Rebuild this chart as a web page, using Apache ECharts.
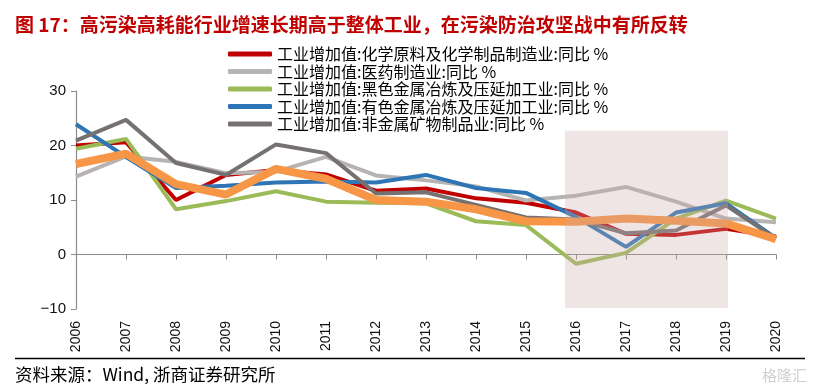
<!DOCTYPE html>
<html>
<head>
<meta charset="utf-8">
<script src="https://cdn.jsdelivr.net/npm/echarts@6/dist/echarts.min.js"></script>
<style>
html,body{margin:0;padding:0;background:#fff;}
#c{width:815px;height:392px;}
</style>
</head>
<body>
<div id="c"></div>
<script>
const years = ['2006','2007','2008','2009','2010','2011','2012','2013','2014','2015','2016','2017','2018','2019','2020'];
const chemical   = [20.0, 20.6, 10.0, 14.6, 15.5, 14.7, 11.7, 12.1, 10.3, 9.5, 7.7, 3.8, 3.6, 4.7, 3.3];
const pharma     = [14.3, 18.0, 17.0, 14.9, 15.2, 17.9, 14.5, 13.6, 12.5, 9.9, 10.8, 12.4, 9.7, 6.6, 5.9];
const ferrous    = [19.4, 21.2, 8.3, 9.8, 11.6, 9.7, 9.5, 9.4, 6.1, 5.4, -1.7, 0.3, 6.6, 9.9, 6.6];
const nonferrous = [23.9, 17.9, 12.2, 12.6, 13.2, 13.4, 13.2, 14.6, 12.2, 11.3, 6.9, 1.4, 7.7, 9.4, 3.0];
const nonmetal   = [20.9, 24.7, 16.8, 14.6, 20.2, 18.6, 11.2, 11.4, 9.1, 6.8, 6.4, 3.9, 4.4, 9.0, 2.9];
const overall    = [16.6, 18.5, 12.9, 11.0, 15.7, 13.9, 10.0, 9.7, 8.3, 6.1, 6.0, 6.6, 6.2, 5.7, 2.8];
const seriesNames = [
  '工业增加值:化学原料及化学制品制造业:同比 %',
  '工业增加值:医药制造业:同比 %',
  '工业增加值:黑色金属冶炼及压延加工业:同比 %',
  '工业增加值:有色金属冶炼及压延加工业:同比 %',
  '工业增加值:非金属矿物制品业:同比 %'
];
const overallName = '工业增加值:同比 %';
// shaded period [xStart, yTop, xEnd, yBottom] in category-index units
const shadeRange = [[9.78, 22.7, 13.04, -9.8]];
const yTicks = {min: -10, max: 30, interval: 10};

const colors = ['#C00000', '#B7B3B3', '#9BBB59', '#2E75B6', '#767171'];
const dataSets = [chemical, pharma, ferrous, nonferrous, nonmetal];

const chart = echarts.init(document.getElementById('c'), null, {renderer: 'canvas'});

const lineSeries = dataSets.map((d, i) => ({
  name: seriesNames[i],
  type: 'line',
  xAxisIndex: 0,
  yAxisIndex: 0,
  data: d,
  symbol: 'none',
  z: 2,
  lineStyle: {color: colors[i], width: 4},
  itemStyle: {color: colors[i]}
}));

lineSeries.push({
  name: overallName,
  type: 'line',
  xAxisIndex: 0,
  yAxisIndex: 0,
  data: overall,
  symbol: 'none',
  z: 3,
  lineStyle: {color: '#F79646', width: 8},
  itemStyle: {color: '#F79646'}
});

lineSeries.push({
  type: 'custom',
  xAxisIndex: 2,
  yAxisIndex: 0,
  z: 10,
  silent: true,
  data: shadeRange,
  renderItem: function (params, api) {
    const p0 = api.coord([api.value(0), api.value(1)]);
    const p1 = api.coord([api.value(2), api.value(3)]);
    return {
      type: 'rect',
      shape: {x: p0[0], y: p0[1], width: p1[0] - p0[0], height: p1[1] - p0[1]},
      style: {fill: 'rgba(205,170,170,0.3)'}
    };
  }
});

const option = {
  backgroundColor: '#fff',
  animation: false,
  title: {
    text: '图 17：高污染高耗能行业增速长期高于整体工业，在污染防治攻坚战中有所反转',
    left: 10,
    top: 10,
    textStyle: {fontFamily: 'Noto Sans CJK SC', fontSize: 19, fontWeight: 'bold', color: '#C00000'}
  },
  legend: {
    data: seriesNames,
    orient: 'vertical',
    left: 223,
    top: 41,
    icon: 'roundRect',
    itemWidth: 44,
    itemHeight: 5,
    itemGap: 1.5,
    textStyle: {fontFamily: 'Noto Sans CJK SC', fontSize: 16, color: '#000', lineHeight: 15.25}
  },
  grid: {left: 76, right: 39, top: 91, bottom: 83, containLabel: false},
  xAxis: [
    {
      type: 'category', data: years, boundaryGap: false, position: 'bottom',
      axisLine: {show: true, onZero: true, lineStyle: {color: '#8c8c8c', width: 1.2}},
      axisTick: {show: true, length: 5, alignWithLabel: true, lineStyle: {color: '#8c8c8c'}},
      axisLabel: {show: false},
      splitLine: {show: false}
    },
    {
      type: 'category', data: years, boundaryGap: false, position: 'bottom',
      axisLine: {show: false, onZero: false},
      axisTick: {show: false},
      axisLabel: {show: true, rotate: 90, margin: 12, fontFamily: 'Liberation Sans', fontSize: 14, color: '#111'},
      splitLine: {show: false}
    },
    {
      type: 'value', min: 0, max: years.length - 1, show: false
    }
  ],
  yAxis: [{
    type: 'value', min: yTicks.min, max: yTicks.max, interval: yTicks.interval,
    axisLine: {show: true, onZero: false, lineStyle: {color: '#8c8c8c', width: 1.2}},
    axisTick: {show: true, length: 5, lineStyle: {color: '#8c8c8c'}},
    axisLabel: {
      margin: 10, fontFamily: 'Liberation Sans', fontSize: 15, color: '#111',
      formatter: v => (v < 0 ? '\u2212' + Math.abs(v) : String(v))
    },
    splitLine: {show: false}
  }],
  graphic: [
    {type: 'line', shape: {x1: 15, y1: 358.5, x2: 805, y2: 358.5}, style: {stroke: '#000', lineWidth: 1.5}},
    {type: 'text', left: 15, top: 366, style: {text: '资料来源：Wind, 浙商证券研究所', fontFamily: 'Noto Sans CJK SC', fontSize: 17.5, fill: '#000'}},
    {type: 'text', right: 8, top: 368, style: {text: '格隆汇', fontFamily: 'Noto Sans CJK SC', fontSize: 15, fill: '#d0d0d0'}}
  ],
  series: lineSeries
};
chart.setOption(option);
</script>
</body>
</html>
